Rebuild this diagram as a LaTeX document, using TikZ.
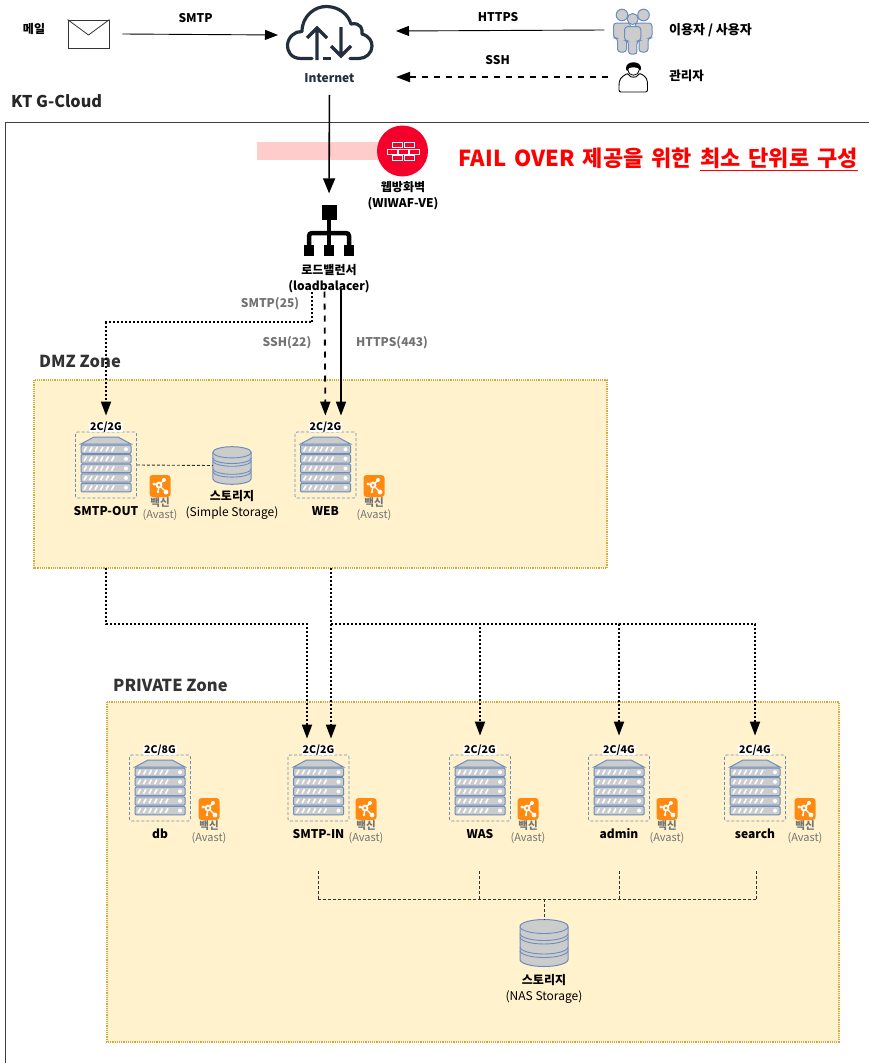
\documentclass[tikz,border=0pt]{standalone}
\usepackage{fontspec}
\setmainfont{Noto Sans CJK KR}
\usetikzlibrary{calc,arrows.meta}

\definecolor{zonefill}{HTML}{FFF2CC}
\definecolor{zoneline}{HTML}{D6A83A}
\definecolor{iconblue}{HTML}{6C8EBF}
\definecolor{icongray}{HTML}{CCCCCC}
\definecolor{cloudnavy}{HTML}{232F3E}
\definecolor{avastorange}{HTML}{FF8A0F}
\definecolor{wafred}{HTML}{F5002B}

\tikzset{
  txt/.style={font=\fontsize{12}{16}\selectfont,align=center,inner sep=0pt},
  txtb/.style={txt,font=\fontsize{12}{16}\selectfont\bfseries},
  note/.style={txtb,text=black!55},
  zone/.style={fill=zonefill,draw=zoneline,line width=1.2pt,densely dotted},
  zonename/.style={font=\fontsize{16.5}{18}\selectfont\bfseries,anchor=west,inner sep=0pt,text=black!80},
  dashbox/.style={draw=iconblue,densely dashed,line width=.8pt,rounded corners=2pt,minimum width=61pt,minimum height=66pt,inner sep=0pt},
  spec/.style={txtb,fill=white,font=\fontsize{10.5}{12}\selectfont\bfseries,inner xsep=1pt},
  iconline/.style={draw=iconblue,fill=icongray,line width=1pt},
  thin arrow/.style={line width=.9pt,-{Triangle[length=13pt,width=10pt]}},
  fat arrow/.style={line width=1.6pt,-{Triangle[length=15pt,width=12pt]}},
  dot arrow/.style={line width=1.8pt,dash pattern=on 2pt off 2pt,-{Triangle[length=14pt,width=10pt]}},
  dash arrow/.style={line width=1.8pt,dash pattern=on 6pt off 6pt,-{Triangle[length=14pt,width=10pt]}},
  store line/.style={line width=.9pt,densely dashed,black!80},
}

% server rack, centred on #1,#2
\newcommand{\serverrack}[2]{
  \begin{scope}[shift={(#1,#2)}]
    \draw[iconline](-25,-21)--(-12,-28)--(12,-28)--(25,-21)--cycle;
    \foreach \s in{0,...,4}{
      \draw[iconline,rounded corners=1pt](-25,-20+\s*9.6)rectangle(25,-11.6+\s*9.6);
      \foreach \h in{-22,-16.5,...,10}
        \draw[white,line width=1.6pt](\h,-13.6+\s*9.6)--(\h+2.5,-18+\s*9.6);
      \fill[white](20,-15.8+\s*9.6)circle(2pt);
    }
  \end{scope}
}
% vaccine badge
\newcommand{\avastbadge}[2]{
  \begin{scope}[shift={(#1,#2)}]
    \fill[avastorange,rounded corners=3pt](-10.5,-11)rectangle(10.5,11);
    \draw[white,line width=1.4pt](-1,-1)--(4,-6)(-1,-1)--(-6,-2)(-1,-1)--(6,6)(-1,-1)--(-2,6);
    \fill[white](4,-6)circle(2pt)(-6,-2)circle(1.6pt)(6,6)circle(2.4pt)(-2,6)circle(1.4pt);
    \fill[white](-1,-1)circle(3.4pt);
    \fill[avastorange](-1,-1)circle(1.5pt);
  \end{scope}
}
% disk stack
\newcommand{\diskstack}[3]{
  \begin{scope}[shift={(#1,#2)},scale=#3]
    \draw[iconline](-24,-16.5)--(-24,16.5)
      arc[start angle=180,end angle=360,x radius=24pt,y radius=7pt]
      --(24,-16.5)arc[start angle=0,end angle=180,x radius=24pt,y radius=7pt]--cycle;
    \draw[draw=iconblue,line width=.9pt](-24,-16.5)arc[start angle=180,end angle=360,x radius=24pt,y radius=7pt];
    \foreach \d in{-3.5,0,10,13.5}
      \draw[draw=iconblue,line width=.9pt](-24,\d-6)arc[start angle=180,end angle=360,x radius=24pt,y radius=7pt];
  \end{scope}
}
% person with rounded shoulders
\newcommand{\personfig}[3]{
  \begin{scope}[shift={(#1,#2)},scale=#3]
    \draw[iconline,rounded corners=3pt](-8.5,8)--(-8.5,23)--(-4.5,23)--(-4.5,37)--(4.5,37)--(4.5,23)--(8.5,23)--(8.5,8)--cycle;
    \draw[iconline](0,0)circle(5.8pt);
  \end{scope}
}

\begin{document}
\begin{tikzpicture}[x=1pt,y=-1pt]
  \useasboundingbox(0,0)rectangle(869,1063);

  % KT G-Cloud
  \draw[line width=.9pt,black!75](869,122)--(5,122)--(5,1063);
  \node[zonename,text=black!85,font=\fontsize{16.2}{18}\selectfont\bfseries](cloudname)at(11,101){KT G-Cloud};

  % zones
  \draw[zone](34,380)rectangle(607,568);
  \draw[zone](107,702)rectangle(839,1042);
  \node[zonename](dmzname)at(39,361){DMZ Zone};
  \node[zonename](privname)at(113,685){PRIVATE Zone};

  % top row
  \node[txtb](mailname)at(34,29){메일};
  \node[draw=black!80,line width=.9pt,minimum width=41pt,minimum height=28pt,inner sep=0pt](mail)at(88.5,34){};
  \draw[black!80,line width=.8pt](mail.north west)--(88.5,35)--(mail.north east);

  % cloud
  \draw[cloudnavy,line width=3.2pt,line cap=round,line join=round]
    (312,58.5)--(301,58.5)..controls(291,58.5)and(287,51)..(287.5,45)
    ..controls(288,37)and(295,31)..(302,31.5)
    ..controls(302,16)and(315,6)..(327,6.5)
    ..controls(339,7)and(348,14)..(351,24)
    ..controls(361,22)and(363,30)..(362,34)
    ..controls(369,36)and(372,41)..(372,46)
    ..controls(372,53)and(366,58.5)..(359,58.5)--(350,58.5);
  \draw[cloudnavy,line width=3.2pt](323,58.5)--(331,58.5);
  \draw[cloudnavy,line width=3.2pt,line join=miter](317,60)--(317,28)(307,38)--(317,28)--(327,38);
  \draw[cloudnavy,line width=3.2pt,line join=miter](341,27)--(341,56)(331,46)--(341,56)--(351,46);
  \node[txtb,text=cloudnavy](internet)at(329.5,78){Internet};

  % users and admin
  \personfig{622}{15}{1}
  \personfig{643.5}{15}{1}
  \personfig{632.7}{19}{.95}
  \node[inner sep=0pt,minimum width=56pt,minimum height=44pt](users)at(632.5,30){};
  \node[txtb,font=\fontsize{13}{16}\selectfont\bfseries](usersname)at(710.5,30){이용자 / 사용자};
  \node[inner sep=0pt,minimum width=50pt,minimum height=32pt](admin)at(633,77){};
  \draw[black,line width=.9pt,fill=white,rounded corners=2pt](619,92)--(619,84)..controls(620,77)and(625,75)..(628,73)
    ..controls(630,78)and(637,78)..(639,73)..controls(643,75)and(647,77)..(647.5,84)--(647.5,92)--cycle;
  \fill[black](626,69)..controls(625,60)and(642,60)..(641,69)..controls(640,72)and(639,70)..(638,68)
    ..controls(634,67)and(631,67)..(629,68)..controls(628,71)and(627,72)..(626,69)--cycle;
  \draw[black,line width=.8pt](628,70)..controls(629,77)and(638,77)..(639,70);
  \node[txtb,font=\fontsize{12.5}{16}\selectfont\bfseries](adminname)at(686.5,76){관리자};

  % firewall
  \fill[red!20](257,142)rectangle(380,160);
  \node[circle,fill=wafred,minimum size=51pt,inner sep=0pt](waf)at(402.5,151){};
  \foreach \bx/\by in{397.5/145,409/145,392/151.5,403/151.5,414/151.5,397.5/157.5,409/157.5}
    \draw[white,line width=.6pt]($(\bx,\by)+(-5,-2.3)$)rectangle($(\bx,\by)+(5,2.3)$);
  \node[txtb](wafname)at(403,196){웹방화벽\\(WIWAF-VE)};

  % load balancer
  \node[fill=black,minimum size=15pt,inner sep=0pt](lb)at(329,212){};
  \draw[black,line width=4.5pt,rounded corners=3pt](309,248)--(309,233)--(349,233)--(349,248);
  \draw[black,line width=4.5pt](lb.south)--(329,248);
  \foreach \lx in{309,329,349}
    \fill[black]($(\lx,250.5)+(-5,-5.5)$)rectangle($(\lx,250.5)+(5,5.5)$);
  \node[txtb](lbname)at(329,279){로드밸런서\\(loadbalacer)};

  % servers
  \foreach \nm/\cx/\cy/\vx/\spc/\lab in{
      smtpout/106/465/160/2C\slash 2G/SMTP-OUT,
      web/325.5/465/374/2C\slash 2G/WEB,
      db/160/788/209/2C\slash 8G/db,
      smtpin/318.5/788/366/2C\slash 2G/SMTP-IN,
      was/480/788/528/2C\slash 2G/WAS,
      admn/619/788/667/2C\slash 4G/admin,
      search/755/788/805/2C\slash 4G/search}{
    \node[dashbox](\nm)at(\cx,\cy){};
    \serverrack{\cx}{\cy}
    \node[spec](\nm spec)at(\cx,\cy-38){\spc};
    \node[txtb](\nm name)at(\cx,\cy+46){\lab};
    \avastbadge{\vx}{\cy+21}
    \node[note,font=\fontsize{10.5}{12}\selectfont\bfseries](\nm vac)at(\vx,\cy+38){백신};
    \node[txt,text=black!55,font=\fontsize{11}{14}\selectfont](\nm av)at(\vx,\cy+50.5){(Avast)};
  }

  % storage
  \diskstack{232}{465.5}{.8}
  \node[inner sep=0pt,minimum width=38pt,minimum height=38pt](dmzdisk)at(232,465.5){};
  \node[txt](dmzdiskname)at(232,505){\textbf{스토리지}\\(Simple Storage)};
  \diskstack{544}{943}{1}
  \node[inner sep=0pt,minimum width=47pt,minimum height=47pt](nasdisk)at(544,943){};
  \node[txt](nasdiskname)at(544,989){\textbf{스토리지}\\(NAS Storage)};

  % red note
  \node[inner sep=0pt,anchor=east,text=red,font=\fontsize{22}{26}\selectfont\bfseries,execute at begin node={\spaceskip=8pt}](failnote)at(858,159)
    {FAIL OVER 제공을 위한 \underline{최소 단위로 구성}};

  % top links
  \coordinate(CloudW)at(278,35);
  \coordinate(CloudE)at(396,31);
  \coordinate(CloudS)at(396,77);
  \draw[thin arrow]([xshift=13pt]mail.east)--(CloudW)node[txtb,pos=.47,yshift=16pt]{SMTP};
  \draw[thin arrow](users.west)--(CloudE)node[txtb,pos=.51,yshift=13pt]{HTTPS};
  \draw[dash arrow](admin.west)--(CloudS)node[txtb,pos=.52,yshift=17pt]{SSH};
  \draw[fat arrow,shorten <=12pt,shorten >=11pt](internet.south)--(lb.north);

  % load balancer to DMZ
  \coordinate(LbTurn)at(312,322);
  \draw[dot arrow,shorten >=16pt]([xshift=-17pt,yshift=2pt]lbname.south)--(LbTurn)-|(smtpout.north);
  \draw[dash arrow,shorten >=16pt]([xshift=-4.5pt,yshift=2pt]lbname.south)--(web.north);
  \draw[fat arrow,-{Triangle[length=14pt,width=10pt]},shorten >=16pt]([xshift=12pt,yshift=4pt]lbname.south)--([xshift=15.5pt]web.north);
  \node[note](smtplabel)at(270,304){SMTP(25)};
  \node[note](sshlabel)at(287,343){SSH(22)};
  \node[note](httpslabel)at(392,343){HTTPS(443)};

  % DMZ to private
  \coordinate(OutTurn)at(106,624);
  \coordinate(OutLeft)at(106,568);
  \coordinate(WebLow)at(331,568);
  \coordinate(WebTurn)at(331,624);
  \draw[dot arrow,shorten >=16pt](OutLeft)--(OutTurn)-|([xshift=-11.5pt]smtpin.north);
  \draw[dot arrow,shorten >=16pt](WebLow)--([xshift=12.5pt]smtpin.north);
  \foreach \nm in{was,admn,search}
    \draw[dot arrow,shorten >=19pt](WebTurn)-|(\nm.north);

  % storage links
  \draw[store line](smtpout.east)--(dmzdisk.west);
  \coordinate(BusL)at(318,899);
  \coordinate(BusR)at(756,899);
  \coordinate(BusM)at(544,899);
  \draw[store line](BusL)--(BusR);
  \draw[store line](BusM)--(nasdisk.north);
  \foreach \bx in{318,479,619,756}
    \draw[store line](\bx,871)--(\bx,899);
\end{tikzpicture}
\end{document}
